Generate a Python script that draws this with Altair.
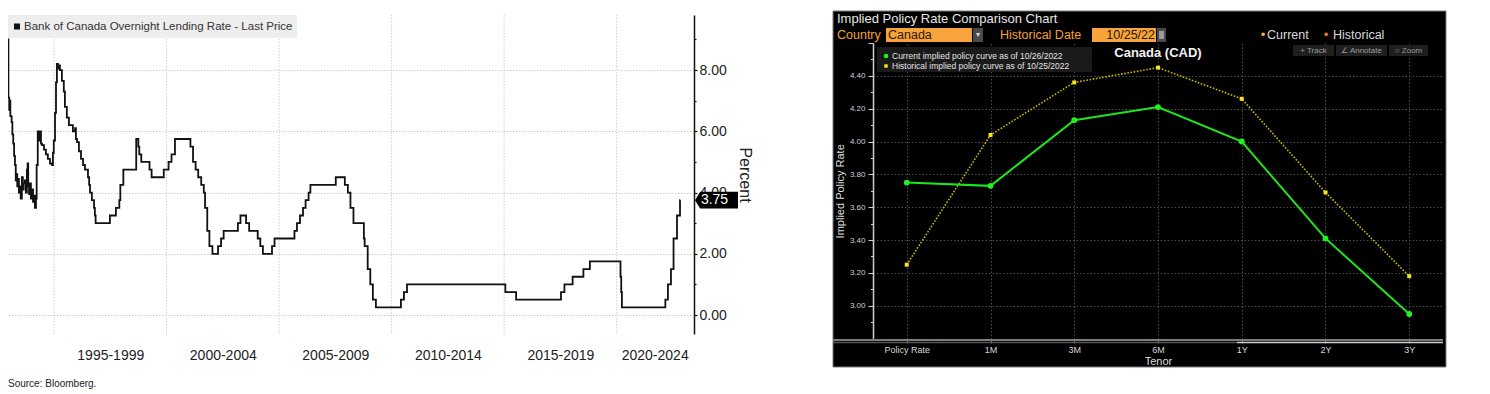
import altair as alt
import pandas as pd

# ---------------- Left panel data: Bank of Canada overnight rate ----------------
rate_dates = [
    "1992-12-15", "1992-12-22", "1993-01-04", "1993-01-11", "1993-01-22", "1993-02-12",
    "1993-02-24", "1993-03-10", "1993-03-24", "1993-04-07", "1993-04-20", "1993-05-03",
    "1993-05-14", "1993-05-26", "1993-06-10", "1993-06-25", "1993-07-09", "1993-07-28",
    "1993-08-13", "1993-08-27", "1993-09-15", "1993-10-01", "1993-10-18", "1993-10-29",
    "1993-11-08", "1993-11-22", "1993-12-06", "1993-12-22", "1994-01-10", "1994-01-25",
    "1994-02-10", "1994-02-25", "1994-03-14", "1994-03-25", "1994-04-12", "1994-04-29",
    "1994-05-16", "1994-06-03", "1994-06-20", "1994-07-22", "1994-08-23", "1994-09-23",
    "1994-10-27", "1994-11-30", "1994-12-14", "1994-12-28", "1995-01-17", "1995-02-02",
    "1995-02-17", "1995-03-06", "1995-03-22", "1995-04-07", "1995-05-09", "1995-06-09",
    "1995-06-27", "1995-07-28", "1995-08-31", "1995-11-03", "1995-12-08", "1995-12-22",
    "1996-01-09", "1996-02-09", "1996-03-14", "1996-04-16", "1996-05-17", "1996-07-05",
    "1996-07-24", "1996-08-07", "1996-09-06", "1996-10-11", "1996-10-25", "1996-11-06",
    "1997-06-26", "1997-10-01", "1997-11-26", "1997-12-12", "1998-01-30", "1998-08-27",
    "1998-09-30", "1998-10-16", "1998-11-17", "1999-03-31", "1999-05-04", "1999-11-17",
    "2000-02-03", "2000-03-22", "2000-05-17", "2001-01-23", "2001-03-06", "2001-04-17",
    "2001-05-29", "2001-07-17", "2001-08-28", "2001-09-17", "2001-10-23", "2001-11-27",
    "2002-01-15", "2002-04-16", "2002-06-04", "2002-07-16", "2003-03-04", "2003-04-15",
    "2003-07-15", "2003-09-03", "2004-01-20", "2004-03-02", "2004-04-13", "2004-09-08",
    "2004-10-19", "2005-09-07", "2005-10-18", "2005-12-06", "2006-01-24", "2006-03-07",
    "2006-04-25", "2006-05-24", "2007-07-10", "2007-12-04", "2008-01-22", "2008-03-04",
    "2008-04-22", "2008-10-08", "2008-10-21", "2008-12-09", "2009-01-20", "2009-03-03",
    "2009-04-21", "2010-06-01", "2010-07-20", "2010-09-08", "2015-01-21", "2015-07-15",
    "2017-07-12", "2017-09-06", "2018-01-17", "2018-07-11", "2018-10-24", "2020-03-04",
    "2020-03-16", "2020-03-27", "2022-03-02", "2022-04-13", "2022-06-01", "2022-07-13",
    "2022-09-07", "2022-10-26", "2022-10-31",
]
rate_values = [
    9.0, 7.1, 6.7, 7.0, 6.5, 6.3,
    5.9, 5.6, 5.2, 4.9, 4.4, 4.6,
    4.2, 4.45, 4.0, 4.2, 3.8, 4.5,
    4.1, 4.3, 4.4, 4.0, 4.75, 4.95,
    4.2, 3.95, 4.3, 3.8, 4.1, 3.7,
    3.9, 3.5, 3.8, 4.9, 6.0, 5.7,
    6.0, 5.6, 5.55, 5.4, 5.25, 5.1,
    4.95, 4.9, 5.3, 5.7, 6.6, 7.6,
    8.2, 8.05, 8.15, 8.0, 7.65, 7.3,
    6.8, 6.45, 6.2, 6.0, 6.1, 5.75,
    5.65, 5.35, 5.1, 4.9, 4.75, 4.5,
    4.25, 4.0, 3.75, 3.5, 3.25, 3.0,
    3.25, 3.5, 3.75, 4.25, 4.75, 5.75,
    5.5, 5.25, 5.0, 4.75, 4.5, 4.75,
    5.0, 5.25, 5.75, 5.5, 5.0, 4.75,
    4.5, 4.25, 4.0, 3.5, 2.75, 2.25,
    2.0, 2.25, 2.5, 2.75, 3.0, 3.25,
    3.0, 2.75, 2.5, 2.25, 2.0, 2.25,
    2.5, 2.75, 3.0, 3.25, 3.5, 3.75,
    4.0, 4.25, 4.5, 4.25, 4.0, 3.5,
    3.0, 2.5, 2.25, 1.5, 1.0, 0.5,
    0.25, 0.5, 0.75, 1.0, 0.75, 0.5,
    0.75, 1.0, 1.25, 1.5, 1.75, 1.25,
    0.75, 0.25, 0.5, 1.0, 1.5, 2.5,
    3.25, 3.75, 3.75,
]
period_starts = ["1995-01-01", "2000-01-01", "2005-01-01", "2010-01-01", "2015-01-01", "2020-01-01"]
period_label_at = ["1997-07-02", "2002-07-02", "2007-07-02", "2012-07-02", "2017-07-02", "2021-09-10"]
left_y_ticks = [0, 1, 2, 3, 4, 5, 6, 7, 8, 9]
last_price = [3.75]
left_legend = "Bank of Canada Overnight Lending Rate - Last Price"
source_note = "Source: Bloomberg."

# ---------------- Right panel data: implied policy rate curves ----------------
tenors = ["Policy Rate", "1M", "3M", "6M", "1Y", "2Y", "3Y"]
current_curve = [3.75, 3.73, 4.13, 4.21, 4.00, 3.41, 2.95]
historical_curve = [3.25, 4.04, 4.36, 4.45, 4.26, 3.69, 3.18]
right_y_ticks = [2.8, 2.9, 3.0, 3.1, 3.2, 3.3, 3.4, 3.5, 3.6, 3.7, 3.8, 3.9,
                 4.0, 4.1, 4.2, 4.3, 4.4, 4.5, 4.6]

FONT = "Liberation Sans"


def dt(s):
    y, m, d = (int(v) for v in s.split("-"))
    return alt.DateTime(year=y, month=m, date=d, utc=True)


def one():
    return alt.Chart(alt.Data(values=[{"k": 1}]))


def box(x1, x2, y1, y2, **kw):
    return one().mark_rect(**kw).encode(
        x=alt.value(x1), x2=alt.value(x2), y=alt.value(y1), y2=alt.value(y2))


def hline(x1, x2, y, **kw):
    return one().mark_rule(**kw).encode(x=alt.value(x1), x2=alt.value(x2), y=alt.value(y))


def txt(s, x, y, **kw):
    kw.setdefault("baseline", "middle")
    kw.setdefault("align", "left")
    return one().mark_text(text=s, **kw).encode(x=alt.value(x), y=alt.value(y))


# ================= LEFT CHART =================
W1, H1 = 686, 319
xs1 = alt.Scale(type="utc", domain=[dt("1992-12-15"), dt("2023-06-10")])
ys1 = alt.Scale(domain=[-0.62, 9.8], nice=False, zero=False)
odd = "datum.value % 2 == 1"

yaxis1 = alt.Axis(
    orient="right", values=left_y_ticks,
    labelExpr="datum.value % 2 == 0 ? format(datum.value, '.2f') : ''",
    labelFontSize=14, labelColor="#222222", labelPadding=2, labelFont=FONT,
    tickColor="#111111", tickWidth=1.2,
    tickSize={"condition": {"test": odd, "value": 2}, "value": 3},
    domainColor="#111111", domainWidth=1.5,
    grid=True, gridColor="#cfcfcf", gridDash=[1.5, 1.5], gridWidth=1,
    gridOpacity={"condition": {"test": odd, "value": 0}, "value": 1},
    title="Percent", titleFontSize=16, titleFontWeight="normal", titleColor="#222222",
    titleFont=FONT, titleAngle=90, titleX=50, titleBaseline="middle",
)
xaxis1 = alt.Axis(
    values=[dt(s) for s in period_label_at],
    labelExpr="floor(utcyear(datum.value)/5)*5 + '-' + (floor(utcyear(datum.value)/5)*5 + 4)",
    labelFontSize=14, labelColor="#222222", labelFont=FONT, labelPadding=14, labelAngle=0,
    labelFlush=False, labelOverlap=False,
    ticks=False, domain=False, grid=False, title=None,
)

rate_df = pd.DataFrame({"date": rate_dates, "rate": rate_values})

vgrid = alt.Chart(pd.DataFrame({"date": period_starts})).mark_rule(
    color="#cfcfcf", strokeDash=[1.5, 1.5], strokeWidth=1
).encode(x=alt.X("date:T", scale=xs1, axis=xaxis1))

rate_line = alt.Chart(rate_df).mark_line(
    interpolate="step-after", color="#111111", strokeWidth=1.8
).encode(
    x=alt.X("date:T", scale=xs1, axis=xaxis1),
    y=alt.Y("rate:Q", scale=ys1, axis=yaxis1),
)

last_df = pd.DataFrame({"rate": last_price})
tag = alt.Chart(last_df).mark_point(
    shape="M -1 0 L -0.76 -0.39 L 1 -0.39 L 1 0.39 L -0.76 0.39 Z",
    size=1849, filled=True, color="#000000", opacity=1, strokeWidth=0,
).encode(x=alt.value(W1 + 22.5), y=alt.Y("rate:Q", scale=ys1, axis=yaxis1))
tag_text = alt.Chart(last_df).mark_text(
    color="#ffffff", fontSize=14, font=FONT, align="center", baseline="middle"
).encode(
    x=alt.value(W1 + 20.5), y=alt.Y("rate:Q", scale=ys1, axis=yaxis1),
    text=alt.Text("rate:Q", format=".2f"),
)

left = alt.layer(
    vgrid,
    box(0, 289, 0, 23, fill="#eeeeee"),
    one().mark_point(shape="square", filled=True, color="#111111", size=36, opacity=1).encode(
        x=alt.value(9), y=alt.value(11.5)),
    txt(left_legend, 16, 12, fontSize=11.5, color="#333333", font=FONT),
    rate_line,
    tag,
    tag_text,
    txt(source_note, 0, 369, fontSize=10, color="#222222", font=FONT),
).properties(width=W1, height=H1)

# ================= RIGHT CHART =================
W2, H2 = 613, 352
ORANGE = "#f5a02c"
xs2 = alt.Scale(type="point", range=[40, 610], padding=0.403)
ys2 = alt.Scale(domain=[2.8, 4.6], range=[323.6, 28], nice=False, zero=False)
minor2 = "round(datum.value*10) % 2 == 1 || datum.value < 2.85 || datum.value > 4.55"

xaxis2 = alt.Axis(
    orient="bottom", offset=-27, domain=False, ticks=True, tickSize=3, tickColor="#8a8a8a",
    labelAngle=0, labelFontSize=9, labelColor="#d8d8d8", labelPadding=2, labelFont=FONT,
    grid=True, gridColor="#4d4d4d", gridDash=[1.5, 2], gridWidth=1,
    title="Tenor", titleColor="#dedede", titleFontSize=11, titleFontWeight="normal",
    titleFont=FONT, titlePadding=1,
)
yaxis2 = alt.Axis(
    orient="left", offset=-40, values=right_y_ticks,
    labelExpr="(round(datum.value*10) % 2 == 0 && datum.value > 2.85 && datum.value < 4.55) ? format(datum.value, '.2f') : ''",
    labelFontSize=8, labelColor="#d0d0d0", labelPadding=3, labelFont=FONT,
    tickColor="#d0d0d0",
    tickSize={"condition": {"test": "round(datum.value*10) % 2 == 1", "value": 2.5}, "value": 5},
    domainColor="#d0d0d0", domainWidth=1.5,
    grid=True, gridColor="#4d4d4d", gridDash=[1.5, 2], gridWidth=1,
    gridOpacity={"condition": {"test": minor2, "value": 0}, "value": 1},
    title="Implied Policy Rate", titleColor="#dedede", titleFontSize=11,
    titleFontWeight="normal", titleFont=FONT, titleAngle=270, titleX=-33,
    titleBaseline="middle",
)

curve_df = pd.DataFrame({"tenor": tenors, "current": current_curve, "historical": historical_curve})
X2 = alt.X("tenor:N", sort=tenors, scale=xs2, axis=xaxis2)

hist_line = alt.Chart(curve_df).mark_line(
    color="#c8b600", strokeWidth=1.6, strokeDash=[1.6, 1.6]
).encode(x=X2, y=alt.Y("historical:Q", scale=ys2, axis=yaxis2))
hist_pts = alt.Chart(curve_df).mark_point(
    shape="square", filled=True, color="#f3e61e", size=16, opacity=1
).encode(x=X2, y=alt.Y("historical:Q", scale=ys2, axis=yaxis2))
cur_line = alt.Chart(curve_df).mark_line(
    color="#1ee41e", strokeWidth=2
).encode(x=X2, y=alt.Y("current:Q", scale=ys2, axis=yaxis2))
cur_pts = alt.Chart(curve_df).mark_point(
    shape="circle", filled=True, color="#22f022", size=34, opacity=1
).encode(x=X2, y=alt.Y("current:Q", scale=ys2, axis=yaxis2))

right = alt.layer(
    box(0, W2, -4, 0, fill="#000000"),
    # scrollbar-like bar under the plot
    hline(0, 610, 325, color="#7c7c7c", strokeWidth=2),
    hline(0, 404, 327.5, color="#555555", strokeWidth=1.5),
    hline(404, 610, 327.5, color="#cfcfcf", strokeWidth=1.5),
    hist_line, hist_pts, cur_line, cur_pts,
    # header
    txt("Implied Policy Rate Comparison Chart", 4, 3.5, fontSize=13, color="#e6e6e6", font=FONT),
    txt("Country", 4, 20, fontSize=12.5, color=ORANGE, font=FONT),
    box(53, 139, 13, 27, fill="#f7a43c"),
    txt("Canada", 55, 20, fontSize=12.5, color="#2a1800", font=FONT),
    box(140, 150, 13, 27, fill="#4a4a4a"),
    txt("\u25be", 145, 20, fontSize=8, color="#dddddd", align="center", font=FONT),
    txt("Historical Date", 167, 20, fontSize=12.5, color=ORANGE, font=FONT),
    box(259, 323, 13, 27, fill="#f7a43c"),
    txt("10/25/22", 322, 20, fontSize=12.5, color="#2a1800", align="right", font=FONT),
    box(324, 333, 13, 27, fill="#4a4a4a"),
    box(326, 331, 16, 24, fill="#9a9a9a"),
    txt("\u2022", 430, 20, fontSize=13, color="#f5b22a", align="center", font=FONT),
    txt("Current", 434, 20, fontSize=12.5, color="#d8d8d8", font=FONT),
    txt("\u2022", 493, 20, fontSize=13, color="#f07c18", align="center", font=FONT),
    txt("Historical", 500, 20, fontSize=12.5, color="#d8d8d8", font=FONT),
    box(460, 501, 30, 41, fill="#1f1f1f"),
    txt("+ Track", 480.5, 35.5, fontSize=8, color="#9c9c9c", align="center", font=FONT),
    box(503, 554, 30, 41, fill="#1f1f1f"),
    txt("\u2220 Annotate", 528.5, 35.5, fontSize=8, color="#9c9c9c", align="center", font=FONT),
    box(556, 595, 30, 41, fill="#1f1f1f"),
    txt("\u25cb Zoom", 575.5, 35.5, fontSize=8, color="#9c9c9c", align="center", font=FONT),
    txt("Canada (CAD)", 325, 38, fontSize=13, fontWeight="bold", color="#f2f2f2",
        align="center", font=FONT),
    # inner legend
    box(44, 259, 32, 57, fill="#1a1a1a"),
    one().mark_point(shape="circle", filled=True, color="#22f022", size=22, opacity=1).encode(
        x=alt.value(53), y=alt.value(41)),
    txt("Current implied policy curve as of 10/26/2022", 59, 41, fontSize=8.5,
        color="#e4e4e4", font=FONT),
    one().mark_point(shape="square", filled=True, color="#f3e61e", size=12, opacity=1).encode(
        x=alt.value(53), y=alt.value(51)),
    txt("Historical implied policy curve as of 10/25/2022", 59, 51, fontSize=8.5,
        color="#e4e4e4", font=FONT),
    # panel border
    box(0, W2, -4, H2, fillOpacity=0, stroke="#7a7a7a", strokeWidth=1),
).properties(
    width=W2, height=H2,
    view=alt.ViewBackground(fill="#000000", strokeWidth=0),
)

chart = alt.hconcat(left, right, spacing=139, bounds="flush").properties(
    padding={"left": -4, "right": 0, "top": 2, "bottom": 0}
).configure(font=FONT).configure_view(strokeWidth=0)

chart.save("out.html", embed_options={"renderer": "svg", "actions": False})
